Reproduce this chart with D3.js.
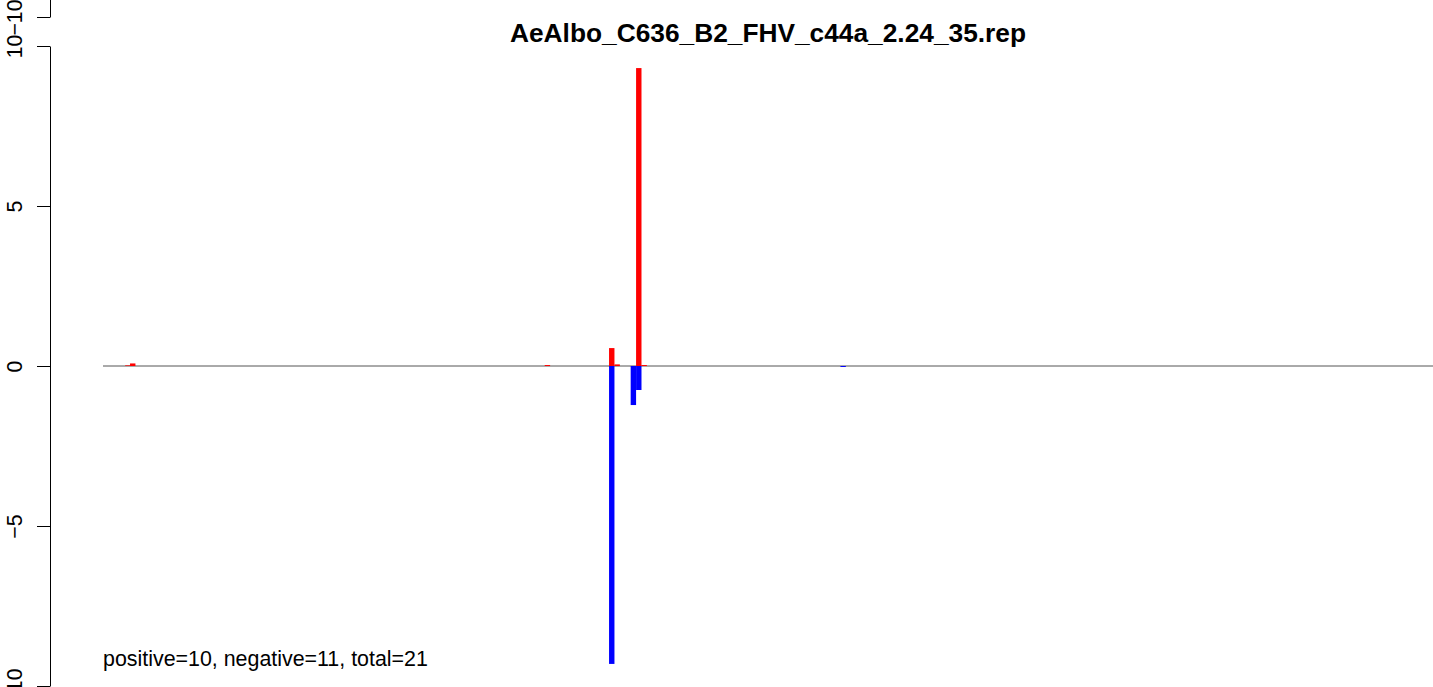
<!DOCTYPE html>
<html><head><meta charset="utf-8">
<script src="https://cdn.jsdelivr.net/npm/d3@7"></script>
<style>body{margin:0;background:#fff}svg{display:block}text{font-family:"Liberation Sans",Arial,sans-serif}</style>
</head><body>
<svg id="c" width="1433" height="687"></svg>
<script>
const title = "AeAlbo_C636_B2_FHV_c44a_2.24_35.rep";
const summary = "positive=10, negative=11, total=21";
const yTicks = [-10, -5, 0, 5, 10];
// bin positions (index along the sequence) and values
const posPositions = [4.1, 5.0, 81.7, 93.6, 94.6, 98.6, 99.6];
const posValues    = [0.02, 0.08, 0.03, 0.56, 0.05, 9.31, 0.03];
const negPositions = [93.6, 97.6, 98.6, 136.4];
const negValues    = [-9.31, -1.22, -0.75, -0.03];

const svg = d3.select("#c");
const x = d3.scaleLinear().domain([0, 246]).range([103, 1433]);
const y = d3.scaleLinear().domain([-10, 10]).range([686, 46]);
const yPrev = d3.scaleLinear().domain([-10, 10]).range([17, -623]);
const bw = x(1) - x(0);

// zero line
svg.append("line").attr("x1", x(0)).attr("x2", x(246)).attr("y1", y(0)).attr("y2", y(0))
  .attr("stroke", "#555").attr("stroke-width", 1);

svg.append("g").selectAll("rect").data(posPositions).join("rect")
  .attr("x", d => x(d)).attr("width", bw)
  .attr("y", (d, i) => y(posValues[i])).attr("height", (d, i) => y(0) - y(posValues[i]))
  .attr("fill", "#ff0000");
svg.append("g").selectAll("rect").data(negPositions).join("rect")
  .attr("x", d => x(d)).attr("width", bw)
  .attr("y", y(0)).attr("height", (d, i) => y(negValues[i]) - y(0))
  .attr("fill", "#0000ff");

function styleAxis(g) {
  g.select(".domain").attr("stroke", "#000");
  g.selectAll(".tick line").attr("stroke", "#000");
  g.selectAll(".tick text")
    .attr("font-size", 21.3).attr("fill", "#000")
    .attr("text-anchor", "middle").attr("dy", null)
    .attr("transform", "translate(-35,0) rotate(-90)")
    .attr("x", 0).attr("y", 0).attr("dominant-baseline", "central");
}
const fmt = d => (d < 0 ? "\u2212" : "") + Math.abs(d);
svg.append("g").attr("transform", "translate(50,0)")
  .call(d3.axisLeft(y).tickValues(yTicks).tickSize(13).tickSizeOuter(0).tickFormat(fmt))
  .call(styleAxis);
svg.append("g").attr("transform", "translate(50,0)")
  .call(d3.axisLeft(yPrev).tickValues([-10]).tickSize(13).tickSizeOuter(0).tickFormat(fmt))
  .call(styleAxis);

svg.append("text").attr("x", 768).attr("y", 42).attr("text-anchor", "middle")
  .attr("font-size", 26.3).attr("font-weight", "bold").text(title);
svg.append("text").attr("x", 103).attr("y", 666).attr("font-size", 21.4).text(summary);
</script>
</body></html>
